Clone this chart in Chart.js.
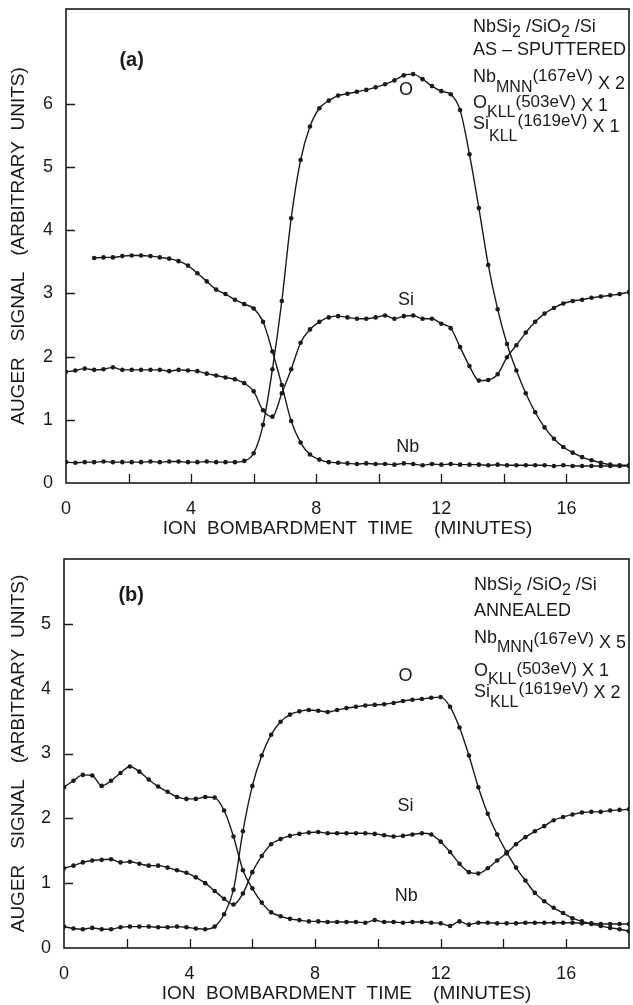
<!DOCTYPE html>
<html>
<head>
<meta charset="utf-8">
<title>Auger depth profiles NbSi2/SiO2/Si</title>
<script src="https://cdn.jsdelivr.net/npm/chart.js@4.4.0/dist/chart.umd.min.js"></script>
<style>
  body { margin: 0; background: #fff; }
  canvas { position: absolute; left: 0; }
  #chartA { top: 0; }
  #chartB { top: 540px; }
</style>
</head>
<body>
<canvas id="chartA" width="633" height="540"></canvas>
<canvas id="chartB" width="633" height="465"></canvas>
<script>
// ion bombardment time of each reading (minutes)
const times = [0, 0.3, 0.6, 0.9, 1.2, 1.5, 1.8, 2.1, 2.4, 2.7,
  3.0, 3.3, 3.6, 3.9, 4.2, 4.5, 4.8, 5.1, 5.4, 5.7,
  6.0, 6.3, 6.6, 6.9, 7.2, 7.5, 7.8, 8.1, 8.4, 8.7,
  9.0, 9.3, 9.6, 9.9, 10.2, 10.5, 10.8, 11.1, 11.4, 11.7,
  12.0, 12.3, 12.6, 12.9, 13.2, 13.5, 13.8, 14.1, 14.4, 14.7,
  15.0, 15.3, 15.6, 15.9, 16.2, 16.5, 16.8, 17.1, 17.4, 17.7, 18.0];

// (a) as-sputtered
const aO = [0.33, 0.32, 0.33, 0.33, 0.34, 0.33, 0.33, 0.33, 0.33, 0.34,
  0.33, 0.34, 0.34, 0.33, 0.33, 0.34, 0.33, 0.33, 0.33, 0.35,
  0.47, 0.92, 1.8, 2.88, 4.19, 5.11, 5.64, 5.93, 6.05, 6.13,
  6.16, 6.19, 6.22, 6.26, 6.31, 6.37, 6.45, 6.47, 6.39, 6.28,
  6.2, 6.15, 5.9, 5.2, 4.35, 3.45, 2.75, 2.2, 1.78, 1.42,
  1.12, 0.88, 0.7, 0.57, 0.48, 0.41, 0.36, 0.32, 0.29, 0.28, 0.28];
const aSi = [1.76, 1.78, 1.81, 1.79, 1.8, 1.83, 1.79, 1.79, 1.79, 1.79,
  1.79, 1.77, 1.79, 1.78, 1.77, 1.73, 1.7, 1.67, 1.64, 1.58,
  1.45, 1.15, 1.05, 1.42, 1.8, 2.22, 2.43, 2.55, 2.62, 2.64,
  2.62, 2.6, 2.6, 2.62, 2.65, 2.6, 2.64, 2.65, 2.6, 2.6,
  2.52, 2.45, 2.15, 1.85, 1.62, 1.63, 1.72, 1.99, 2.18, 2.38,
  2.55, 2.68, 2.77, 2.84, 2.88, 2.9, 2.93, 2.95, 2.97, 2.99, 3.02];
const aNb = [null, null, null, 3.56, 3.57, 3.57, 3.59, 3.6, 3.6, 3.59,
  3.57, 3.55, 3.51, 3.44, 3.32, 3.19, 3.06, 2.99, 2.9, 2.83,
  2.76, 2.55, 2.08, 1.55, 0.98, 0.64, 0.45, 0.37, 0.33, 0.32,
  0.31, 0.3, 0.31, 0.3, 0.3, 0.29, 0.31, 0.3, 0.28, 0.3,
  0.29, 0.3, 0.29, 0.29, 0.29, 0.28, 0.29, 0.28, 0.28, 0.28,
  0.28, 0.28, 0.27, 0.28, 0.27, 0.27, 0.27, 0.27, 0.27, 0.27, 0.27];

// (b) annealed
const bO = [0.33, 0.3, 0.29, 0.31, 0.29, 0.29, 0.32, 0.33, 0.33, 0.33,
  0.32, 0.32, 0.33, 0.32, 0.3, 0.29, 0.33, 0.52, 0.9, 1.8,
  2.5, 2.97, 3.29, 3.49, 3.6, 3.65, 3.67, 3.66, 3.64, 3.67,
  3.7, 3.72, 3.74, 3.75, 3.76, 3.78, 3.81, 3.83, 3.84, 3.86,
  3.87, 3.72, 3.4, 2.97, 2.48, 2.07, 1.75, 1.48, 1.24, 1.04,
  0.85, 0.72, 0.62, 0.54, 0.46, 0.41, 0.37, 0.34, 0.31, 0.29, 0.26];
const bSi = [1.23, 1.27, 1.32, 1.35, 1.36, 1.37, 1.32, 1.33, 1.3, 1.27,
  1.27, 1.24, 1.2, 1.16, 1.09, 1.0, 0.88, 0.76, 0.67, 0.84,
  1.17, 1.42, 1.6, 1.68, 1.73, 1.76, 1.78, 1.79, 1.77, 1.77,
  1.77, 1.77, 1.77, 1.76, 1.74, 1.72, 1.73, 1.75, 1.77, 1.75,
  1.64, 1.48, 1.3, 1.17, 1.15, 1.23, 1.35, 1.46, 1.6, 1.71,
  1.8, 1.88, 1.97, 2.02, 2.06, 2.09, 2.1, 2.1, 2.12, 2.13, 2.14];
const bNb = [2.48, 2.58, 2.67, 2.66, 2.5, 2.58, 2.7, 2.8, 2.72, 2.6,
  2.49, 2.41, 2.33, 2.3, 2.3, 2.33, 2.32, 2.12, 1.72, 1.2,
  0.92, 0.7, 0.55, 0.49, 0.45, 0.43, 0.41, 0.41, 0.4, 0.4,
  0.4, 0.4, 0.39, 0.43, 0.4, 0.4, 0.39, 0.4, 0.4, 0.39,
  0.38, 0.34, 0.41, 0.36, 0.39, 0.39, 0.38, 0.38, 0.38, 0.39,
  0.39, 0.39, 0.39, 0.39, 0.39, 0.38, 0.38, 0.37, 0.37, 0.37, 0.37];

// axis ticks
const xTickLabels = [0, 4, 8, 12, 16];
const xTickMarks = [2, 4, 6, 8, 10, 12, 14, 16];
const yTickLabelsA = [0, 1, 2, 3, 4, 5, 6];
const yTickLabelsB = [0, 1, 2, 3, 4, 5];

const FONT = "'Liberation Sans', Arial, sans-serif";
const INK = '#1a1a1a';

const toPoints = (vals) => times.map((t, i) => ({ x: t, y: vals[i] }));

const curve = (label, vals) => ({
    label: label,
    data: toPoints(vals),
    borderColor: INK,
    borderWidth: 1.4,
    pointRadius: 2.3,
    pointBackgroundColor: INK,
    pointBorderWidth: 0,
    cubicInterpolationMode: 'monotone',
    fill: false
});

// frame, inward ticks and the texts inside the plot
const paperPlugin = {
    id: 'paper',
    afterDraw(chart, args, opts) {
        const { ctx, chartArea: a, scales: { x, y } } = chart;
        ctx.save();
        ctx.strokeStyle = INK;
        ctx.lineWidth = 1.6;
        ctx.strokeRect(a.left, a.top, a.right - a.left, a.bottom - a.top);

        ctx.lineWidth = 1.3;
        ctx.beginPath();
        xTickMarks.forEach(v => {
            const px = Math.round(x.getPixelForValue(v)) + 0.5;
            ctx.moveTo(px, a.bottom);
            ctx.lineTo(px, a.bottom - 9);
        });
        opts.yTicks.forEach(v => {
            const py = Math.round(y.getPixelForValue(v)) + 0.5;
            ctx.moveTo(a.left, py);
            ctx.lineTo(a.left + 9, py);
        });
        ctx.stroke();

        ctx.fillStyle = INK;
        ctx.textAlign = 'center';
        ctx.textBaseline = 'middle';
        ctx.font = 'bold 20px ' + FONT;
        ctx.fillText(opts.tag.text, x.getPixelForValue(opts.tag.x), y.getPixelForValue(opts.tag.y));
        ctx.font = '18px ' + FONT;
        opts.names.forEach(n => {
            ctx.fillText(n.text, x.getPixelForValue(n.x), y.getPixelForValue(n.y));
        });

        // sample / transitions block, top right
        ctx.textAlign = 'left';
        ctx.textBaseline = 'alphabetic';
        opts.block.forEach(line => {
            let px = a.left + opts.blockLeft;
            const base = a.top + line.base;
            line.parts.forEach(([text, dy, size]) => {
                ctx.font = size + 'px ' + FONT;
                ctx.fillText(text, px, base + dy);
                px += ctx.measureText(text).width;
            });
        });
        ctx.restore();
    }
};

function makeChart(id, series, opts) {
    return new Chart(document.getElementById(id), {
        type: 'line',
        data: {
            datasets: [curve('O', series.O), curve('Si', series.Si), curve('Nb', series.Nb)]
        },
        options: {
            responsive: false,
            animation: false,
            devicePixelRatio: 1,
            layout: { padding: { top: opts.top, right: 1, left: 0, bottom: 0 } },
            plugins: {
                legend: { display: false },
                tooltip: { enabled: false },
                paper: opts.paper
            },
            scales: {
                x: {
                    type: 'linear',
                    min: 0,
                    max: 18,
                    grid: { display: false, drawTicks: false },
                    border: { display: false },
                    ticks: {
                        stepSize: 2,
                        autoSkip: false,
                        maxRotation: 0,
                        padding: 15,
                        color: INK,
                        font: { family: FONT, size: 18 },
                        callback: (v) => xTickLabels.includes(v) ? String(v) : ''
                    },
                    title: {
                        display: true,
                        text: 'ION  BOMBARDMENT  TIME    (MINUTES)',
                        color: INK,
                        font: { family: FONT, size: 19 },
                        padding: { top: 0, bottom: 0 }
                    },
                    afterFit: (s) => { s.height = 57; s.paddingLeft = 0; s.paddingRight = 0; }
                },
                y: {
                    min: 0,
                    max: opts.yMax,
                    grid: { display: false, drawTicks: false },
                    border: { display: false },
                    ticks: {
                        stepSize: 1,
                        autoSkip: false,
                        padding: 13,
                        color: INK,
                        font: { family: FONT, size: 18 },
                        callback: (v) => opts.yLabels.includes(v) ? String(v) : ''
                    },
                    title: {
                        display: true,
                        text: 'AUGER   SIGNAL   (ARBITRARY  UNITS)',
                        color: INK,
                        font: { family: FONT, size: 19 },
                        padding: { top: 7, bottom: 0 }
                    },
                    afterFit: (s) => { s.width = opts.yWidth; s.paddingTop = 0; s.paddingBottom = 0; }
                }
            }
        },
        plugins: [paperPlugin]
    });
}

makeChart('chartA', { O: aO, Si: aSi, Nb: aNb }, {
    top: 9,
    yMax: 7.5,
    yWidth: 66,
    yLabels: yTickLabelsA,
    paper: {
        yTicks: [1, 2, 3, 4, 5, 6],
        tag: { text: '(a)', x: 2.1, y: 6.68 },
        names: [
            { text: 'O', x: 10.87, y: 6.21 },
            { text: 'Si', x: 10.87, y: 2.89 },
            { text: 'Nb', x: 10.93, y: 0.57 }
        ],
        blockLeft: 407,
        block: [
            { base: 23, parts: [['NbSi', 0, 18], ['2', 5, 16], [' /SiO', 0, 18], ['2', 5, 16], [' /Si', 0, 18]] },
            { base: 46, parts: [['AS \u2013 SPUTTERED', 0, 18]] },
            { base: 73, parts: [['Nb', 0, 18], ['MNN', 10, 16], ['(167eV)', -1, 17], [' X 2', 7, 18]] },
            { base: 99, parts: [['O', 0, 18], ['KLL', 9, 16], ['(503eV)', -1, 17], [' X 1', 3, 18]] },
            { base: 120, parts: [['Si', 0, 18], ['KLL', 12, 16], ['(1619eV)', -3, 17], [' X 1', 3, 18]] }
        ]
    }
});

makeChart('chartB', { O: bO, Si: bSi, Nb: bNb }, {
    top: 19,
    yMax: 6,
    yWidth: 64,
    yLabels: yTickLabelsB,
    paper: {
        yTicks: [1, 2, 3, 4, 5],
        tag: { text: '(b)', x: 2.14, y: 5.44 },
        names: [
            { text: 'O', x: 10.88, y: 4.19 },
            { text: 'Si', x: 10.88, y: 2.19 },
            { text: 'Nb', x: 10.9, y: 0.8 }
        ],
        blockLeft: 410,
        block: [
            { base: 31, parts: [['NbSi', 0, 18], ['2', 5, 16], [' /SiO', 0, 18], ['2', 5, 16], [' /Si', 0, 18]] },
            { base: 57, parts: [['ANNEALED', 0, 18]] },
            { base: 84, parts: [['Nb', 0, 18], ['MNN', 9, 16], ['(167eV)', 1, 17], [' X 5', 5, 18]] },
            { base: 117, parts: [['O', 0, 18], ['KLL', 8, 16], ['(503eV)', -2, 17], [' X 1', 0, 18]] },
            { base: 138, parts: [['Si', 0, 18], ['KLL', 10, 16], ['(1619eV)', -3, 17], [' X 2', 1, 18]] }
        ]
    }
});
</script>
</body>
</html>
